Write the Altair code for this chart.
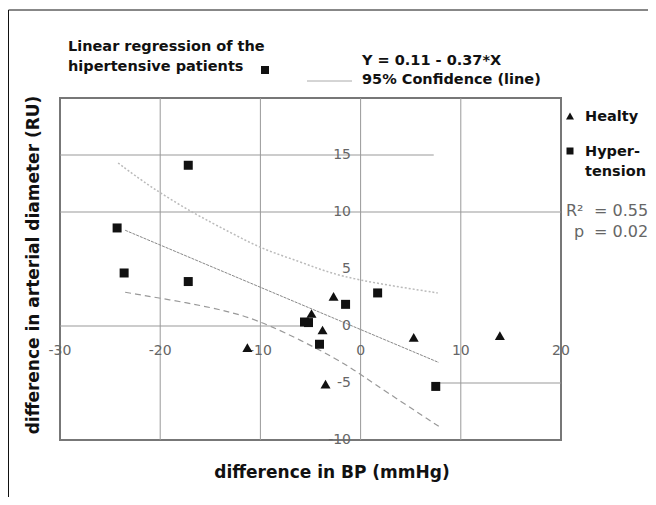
import altair as alt
import pandas as pd

# ---- data ----
hyp_x = [-17.2, -24.3, -23.6, -17.2, 1.7, -1.5, -5.6, -5.2, -4.1, 7.5]
hyp_y = [14.1, 8.6, 4.65, 3.9, 2.9, 1.9, 0.35, 0.3, -1.6, -5.3]

healthy_x = [-2.7, -4.9, -3.8, -11.3, -3.5, 5.3, 13.9]
healthy_y = [2.6, 1.1, -0.35, -1.9, -5.1, -1.0, -0.85]

reg_x = [-23.5, 7.8]
reg_y = [8.4, -3.2]

upper_x = [-24.2, -21.0, -16.7, -13.0, -9.7, -6.2, -3.3, 0.0, 4.0, 7.7]
upper_y = [14.3, 12.2, 9.9, 8.2, 6.7, 5.7, 4.7, 4.0, 3.4, 2.9]

lower_x = [-23.5, -17.0, -13.3, -9.7, -2.0, 0.7, 7.8]
lower_y = [2.96, 2.0, 1.3, 0.4, -3.0, -4.7, -8.8]

x_ticks = [-30, -20, -10, 0, 10, 20]
y_ticks = [15, 10, 5, 0, -5, -10]

vgrid_x = [-20, -10, 0, 10]
hgrid_y = [15, 10, 0, -5]
hgrid_from = [-30, -30, -30, 7.3]
hgrid_to = [7.3, 20, -5.5, 20]

X_DOM = [-30, 20]
Y_DOM = [-10, 20]

FONT = "DejaVu Sans"
TICK_COLOR = "#666"
W, H = 501, 342

xs = alt.Scale(domain=X_DOM, nice=False, zero=False)
ys = alt.Scale(domain=Y_DOM, nice=False, zero=False)

one = pd.DataFrame({"a": [0]})

# gridlines
vgrid = alt.Chart(pd.DataFrame({"x": vgrid_x})).mark_rule(color="#999", strokeWidth=1).encode(
    x=alt.X("x:Q", scale=xs, axis=None),
    y=alt.value(0), y2=alt.value(H))
hgrid = alt.Chart(pd.DataFrame({"y": hgrid_y, "x1": hgrid_from, "x2": hgrid_to})).mark_rule(
    color="#999", strokeWidth=1).encode(
    y=alt.Y("y:Q", scale=ys, axis=None),
    x=alt.X("x1:Q", scale=xs, axis=None), x2="x2:Q")

# lines
reg = alt.Chart(pd.DataFrame({"x": reg_x, "y": reg_y})).mark_line(
    color="#888", strokeWidth=1, strokeDash=[3, 1]).encode(
    x=alt.X("x:Q", scale=xs, axis=None), y=alt.Y("y:Q", scale=ys, axis=None))
upper = alt.Chart(pd.DataFrame({"x": upper_x, "y": upper_y})).mark_line(
    color="#bbb", strokeWidth=1.5, interpolate="basis", strokeDash=[2, 2]).encode(
    x=alt.X("x:Q", scale=xs, axis=None), y=alt.Y("y:Q", scale=ys, axis=None))
lower = alt.Chart(pd.DataFrame({"x": lower_x, "y": lower_y})).mark_line(
    color="#999", strokeWidth=1.2, interpolate="basis", strokeDash=[6, 4]).encode(
    x=alt.X("x:Q", scale=xs, axis=None), y=alt.Y("y:Q", scale=ys, axis=None))

# points
hyp = alt.Chart(pd.DataFrame({"x": hyp_x, "y": hyp_y})).mark_point(
    shape="square", filled=True, color="#111", size=81, opacity=1).encode(
    x=alt.X("x:Q", scale=xs, axis=None), y=alt.Y("y:Q", scale=ys, axis=None))
hea = alt.Chart(pd.DataFrame({"x": healthy_x, "y": healthy_y})).mark_point(
    shape="triangle-up", filled=True, color="#111", size=100, opacity=1).encode(
    x=alt.X("x:Q", scale=xs, axis=None), y=alt.Y("y:Q", scale=ys, axis=None))

# tick labels (axes cross inside the plot)
xlab = alt.Chart(pd.DataFrame({"x": x_ticks, "t": [str(v) for v in x_ticks]})).mark_text(
    font=FONT, fontSize=14, color=TICK_COLOR, align="center", baseline="middle").encode(
    x=alt.X("x:Q", scale=xs, axis=None), y=alt.value(253), text="t:N")
ylab = alt.Chart(pd.DataFrame({"y": y_ticks, "t": [str(v) for v in y_ticks]})).mark_text(
    font=FONT, fontSize=14, color=TICK_COLOR, align="right", baseline="middle").encode(
    y=alt.Y("y:Q", scale=ys, axis=None), x=alt.value(291), text="t:N")


def label(text, x, y, size=14.5, weight="bold", color="#111", align="left", angle=0):
    return alt.Chart(one).mark_text(
        font=FONT, fontSize=size, fontWeight=weight, color=color,
        align=align, baseline="middle", angle=angle).encode(
        x=alt.value(x), y=alt.value(y), text=alt.value(text))


def symbol(shape, x, y, size):
    return alt.Chart(one).mark_point(
        shape=shape, filled=True, color="#111", size=size, opacity=1).encode(
        x=alt.value(x), y=alt.value(y))


annots = [
    label("Linear regression of the", 8, -51),
    label("hipertensive patients", 8, -31),
    symbol("square", 205, -28, 64),
    label("Y = 0.11 - 0.37*X", 302, -37),
    label("95% Confidence (line)", 302, -18),
    alt.Chart(one).mark_rule(color="#aaa", strokeWidth=1).encode(
        x=alt.value(247), x2=alt.value(292), y=alt.value(-17)),
    symbol("triangle-up", 510, 18, 64),
    label("Healty", 525, 19),
    symbol("square", 510, 53, 49),
    label("Hyper-", 525, 54),
    label("tension", 525, 74),
    label("R\u00b2", 506, 113, size=16, weight="normal", color="#666"),
    label("= 0.55", 534, 113, size=16, weight="normal", color="#666"),
    label("p", 514, 134, size=16, weight="normal", color="#666"),
    label("= 0.02", 534, 134, size=16, weight="normal", color="#666"),
    label("difference in BP (mmHg)", 272, 375, size=17, align="center"),
    label("difference in arterial diameter (RU)", -26, 167, size=17, align="center", angle=270),
    # outer border (top and left)
    alt.Chart(one).mark_rule(color="#111", strokeWidth=1).encode(
        x=alt.value(-51.5), x2=alt.value(588), y=alt.value(-88)),
    alt.Chart(one).mark_rule(color="#111", strokeWidth=1).encode(
        x=alt.value(-51.5), y=alt.value(-88), y2=alt.value(400)),
]

chart = alt.layer(vgrid, hgrid, upper, lower, reg, xlab, ylab, hyp, hea, *annots).properties(
    width=W, height=H,
    padding={"left": 52, "top": 90, "right": 87, "bottom": 57},
    autosize=alt.AutoSizeParams(type="none"),
    background="white",
).configure_view(stroke="#777", strokeWidth=2)

chart.save("out.html", embed_options={"renderer": "svg", "actions": False})
